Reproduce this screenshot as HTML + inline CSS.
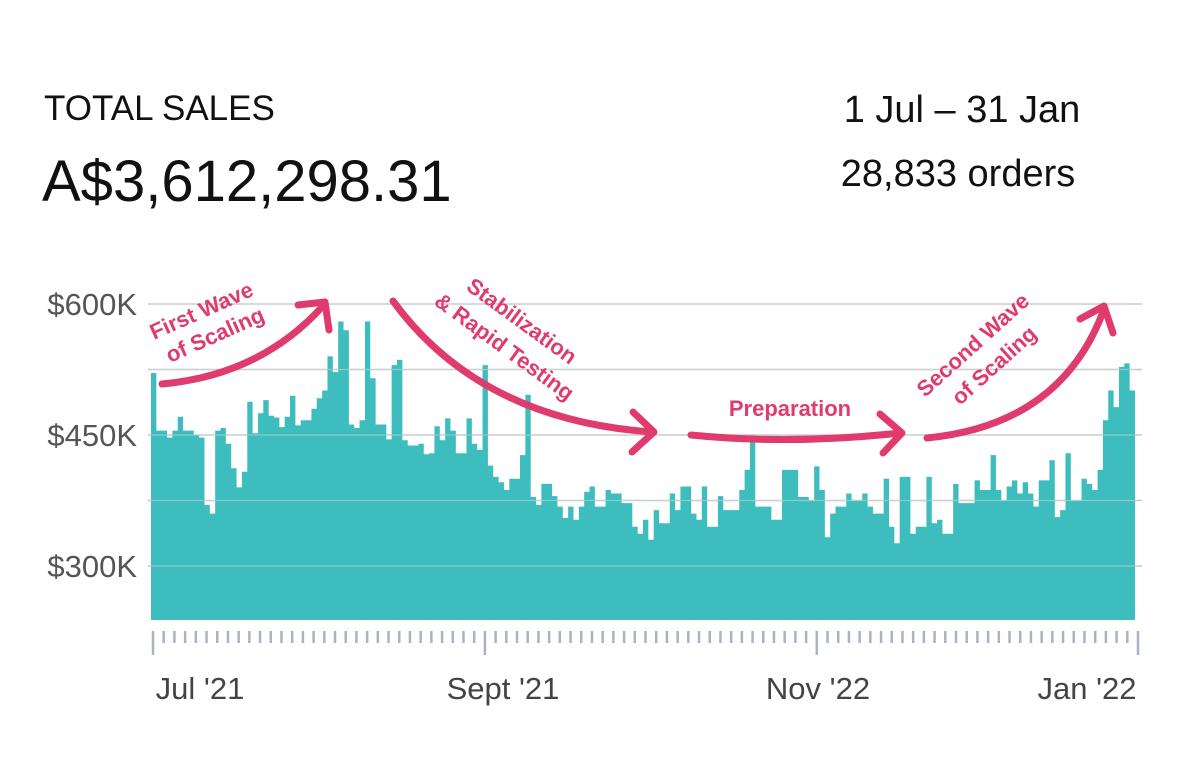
<!DOCTYPE html>
<html><head><meta charset="utf-8"><style>
html,body{margin:0;padding:0;background:#fff;}
body{width:1185px;height:761px;overflow:hidden;}
svg text{font-family:"Liberation Sans","DejaVu Sans",sans-serif;}
</style></head><body>
<svg id="chart" width="1185" height="761" viewBox="0 0 1185 761" xmlns="http://www.w3.org/2000/svg">
  <text x="44" y="120" font-size="35" fill="#111">TOTAL SALES</text>
  <text x="42" y="201" font-size="58" fill="#111">A$3,612,298.31</text>
  <text x="962" y="122" font-size="38" fill="#111" text-anchor="middle">1 Jul – 31 Jan</text>
  <text x="958" y="186" font-size="38" fill="#111" text-anchor="middle">28,833 orders</text>
  <g id="grid"></g>
  <g id="bars"></g>
  <g id="gridtop"></g>
  <g id="yaxis"></g>
  <g id="xaxis"></g>
  <g fill="none" stroke="#df3b6d" stroke-width="7" stroke-linecap="round" stroke-linejoin="round">
    <path d="M162,384 Q260,375 322,307"/>
    <path d="M298,305 L325,302 L329,330"/>
    <path d="M393,301 Q480,420 652,432"/>
    <path d="M633,412 L654,432 L632,452"/>
    <path d="M691,435 Q790,445 900,433"/>
    <path d="M880,414 L902,433 L883,453"/>
    <path d="M927,438 Q1060,425 1103,312"/>
    <path d="M1080,319 L1104,306 L1113,333"/>
  </g>
  <g fill="#df3b6d" font-weight="bold" font-size="22">
    <text transform="translate(154,340) rotate(-24)">First Wave</text>
    <text transform="translate(170,363) rotate(-24)">of Scaling</text>
    <text transform="translate(465,289) rotate(36)">Stabilization</text>
    <text transform="translate(433,304) rotate(36)">&amp; Rapid Testing</text>
    <text x="790" y="416" text-anchor="middle">Preparation</text>
    <text transform="translate(925,398) rotate(-42)">Second Wave</text>
    <text transform="translate(960,406) rotate(-42)">of Scaling</text>
  </g>
</svg>
<script>
const salesK = [521,455,455,447,455,471,455,455,450,447,370,360,455,458,440,412,390,408,488,452,475,490,472,470,459,471,495,461,467,467,480,492,501,540,522,580,570,462,458,467,580,515,462,462,445,530,536,444,438,438,440,428,429,460,444,469,455,429,429,469,440,433,530,415,402,396,387,400,400,427,496,379,370,
394,394,380,368,355,368,353,368,385,391,368,368,387,383,383,372,372,345,337,353,330,364,349,349,383,364,391,391,360,353,391,345,345,380,364,364,364,387,410,450,368,368,368,353,353,410,410,410,379,379,375,414,387,333,360,368,368,383,375,375,383,368,360,360,400,345,326,402,402,337,345,345,402,349,353,337,337,394,372,372,372,398,387,387,427,387,375,391,398,383,396,383,368,398,398,421,356,364,429,375,375,400,394,387,410,467,501,482,528,532,501];
const yTicks = [300,450,600];
const yTickLabels = ["$300K","$450K","$600K"];
const extraGrid = [375,525];
const xTickLabels = ["Jul '21","Sept '21","Nov '22","Jan '22"];
const xTickDays = [0,62,124,184];

const NS="http://www.w3.org/2000/svg";
const X0=151, X1=1135, BASE=620;
const n=salesK.length;
function xScale(d){return X0+(X1-X0)*d/n;}
function yScale(v){return 566-(v-300)*(262/300);}
function mk(tag,attrs,parent){const e=document.createElementNS(NS,tag);for(const k in attrs)e.setAttribute(k,attrs[k]);parent.appendChild(e);return e;}

const grid=document.getElementById('grid');
const gridtop=document.getElementById('gridtop');
yTicks.concat(extraGrid).forEach(v=>{
  const l=mk('line',{x1:148,x2:1142,y1:yScale(v),y2:yScale(v),stroke:'#c8c8c8','stroke-width':1.5},grid);
  
  
  const l2=mk('line',{x1:X0,x2:X1,y1:yScale(v),y2:yScale(v),stroke:'#cfd9d9','stroke-width':1.2,opacity:0.55},gridtop);
  
  
});

const bars=document.getElementById('bars');
let d='M'+X0+','+BASE;
salesK.forEach((v,i)=>{d+=' L'+xScale(i).toFixed(2)+','+yScale(v).toFixed(1)+' L'+xScale(i+1).toFixed(2)+','+yScale(v).toFixed(1);});
d+=' L'+X1+','+BASE+' Z';
const area=mk('path',{d:d,fill:'#3dbdbd'},bars);



const yaxis=document.getElementById('yaxis');
yTicks.forEach((v,i)=>{
  const t=mk('text',{x:137,y:yScale(v)+11,'font-size':31,fill:'#555','text-anchor':'end'},yaxis);
  t.textContent=yTickLabels[i];
  
  
});

const xaxis=document.getElementById('xaxis');
const tickStart=153, tickEnd=1138, nTicks=92;
for(let i=0;i<=nTicks;i++){
  const x=tickStart+(tickEnd-tickStart)*i/nTicks;
  const major=(i%31===0)||i===nTicks;
  const t=mk('line',{x1:x,x2:x,y1:631,y2:major?655:643,stroke:'#aab3c2','stroke-width':2.5},xaxis);
  
  
}
const labelX=[200,503,818,1087];
xTickLabels.forEach((s,i)=>{
  const t=mk('text',{x:labelX[i],y:699,'font-size':31,fill:'#444','text-anchor':'middle'},xaxis);
  t.textContent=s;
  
  
});
</script>
</body></html>
